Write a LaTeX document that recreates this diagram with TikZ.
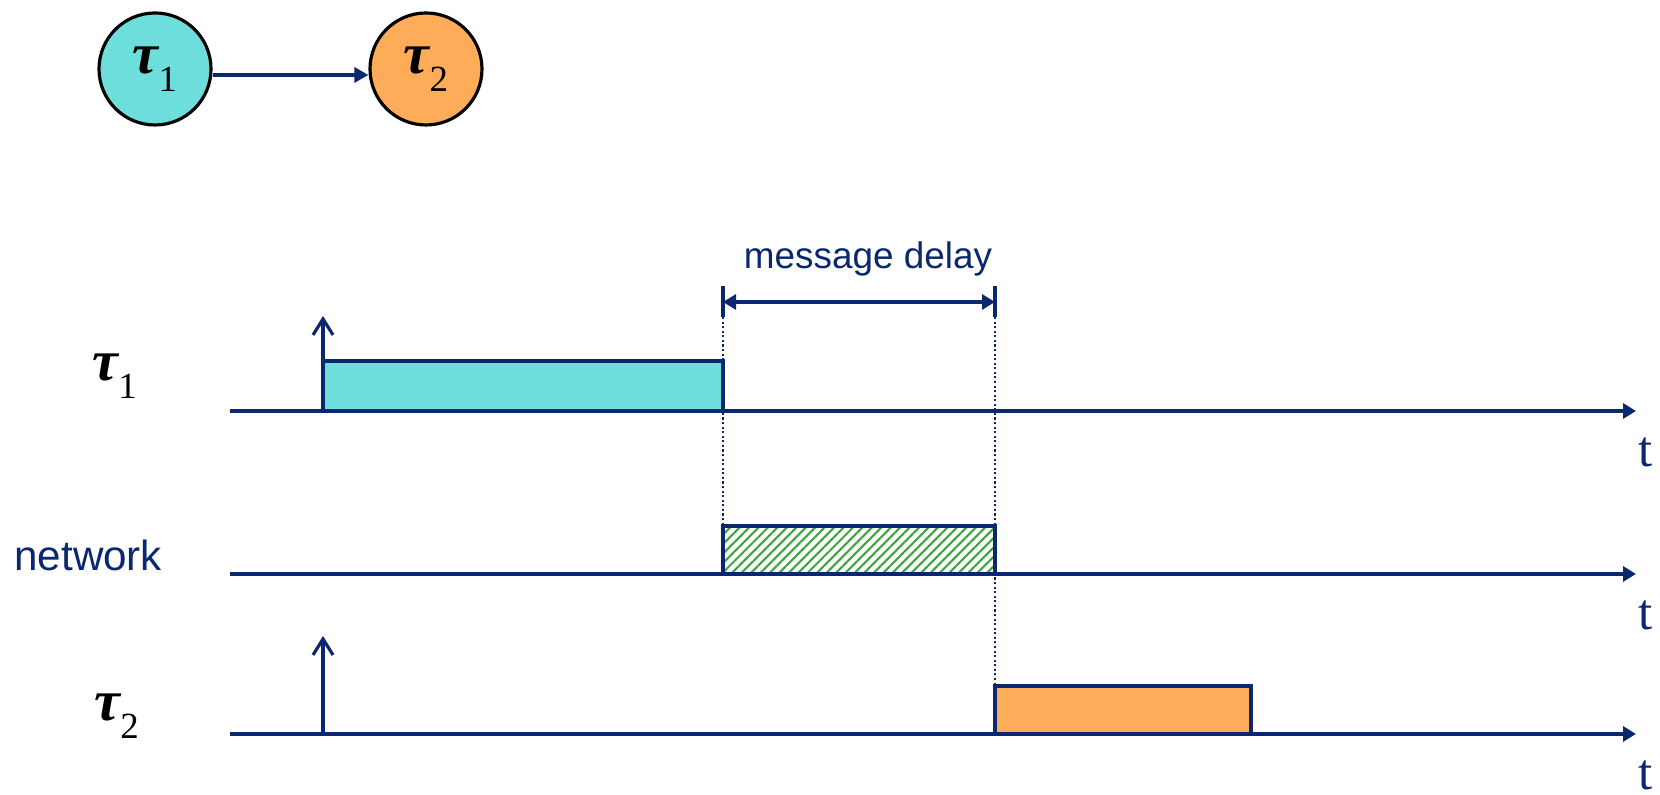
\documentclass[tikz,border=0pt]{standalone}
\usepackage{amsmath}
\usepackage{xcolor}
\usepackage{fontspec}
\setmainfont{Liberation Sans}
\newfontfamily\timesfont{Liberation Serif}
\usepackage{tikz}
\usetikzlibrary{arrows.meta,patterns.meta}

\definecolor{navy}{RGB}{10,40,112}
\definecolor{cyanfill}{RGB}{110,222,220}
\definecolor{orangefill}{RGB}{255,172,90}
\definecolor{hatchgreen}{RGB}{60,165,60}

% task name: tau with a low subscript
\newcommand{\tsk}[1]{{\timesfont\bfseries\itshape\fontsize{16.5}{19}\selectfont τ}\raisebox{-5pt}{\timesfont\fontsize{10.5}{12}\selectfont #1}}

\begin{document}
\begin{tikzpicture}[x=1cm,y=1cm,
        task/.style={circle, draw=black, line width=0.9pt, minimum size=1.12cm, inner sep=0pt},
        axis/.style={navy, line width=0.9pt, -{Triangle[length=1.3mm,width=1.5mm]}},
        release/.style={navy, line width=0.9pt, -{Straight Barb[length=1.6mm,width=2mm]}},
        job/.style={draw=navy, line width=0.9pt},
        tasklbl/.style={inner sep=0pt, anchor=base west},
        tlbl/.style={text=navy, inner sep=0pt, font=\timesfont\fontsize{14.5}{17}\selectfont},
        guide/.style={navy, line width=0.8pt, dash pattern=on 0.6pt off 0.7pt}]
            \useasboundingbox (0,0) rectangle (16.6,7.95);

            % precedence graph
            \node[task, fill=cyanfill] (A) at (1.55,7.26) {\tsk{1}};
            \node[task, fill=orangefill] (B) at (4.26,7.26) {\tsk{2}};
            \draw[navy, line width=0.9pt, -{Triangle[length=1.4mm,width=1.5mm]}] ([yshift=-0.06cm]A.east) -- ([yshift=-0.06cm]B.west);

            % time axes
            \foreach \y/\nm in {3.84/one, 2.21/net, 0.61/two}{
                \coordinate (\nm s) at (2.30,\y);
                \coordinate (\nm e) at (16.36,\y);
                \draw[axis] (\nm s) -- (\nm e);
                \node[tlbl] (t\nm) at (16.46,\y-0.41) {t};
            }

            \node[tasklbl] (L1) at (0.92,4.14) {\tsk{1}};
            \node[text=navy, font=\fontsize{12}{14}\selectfont, anchor=west] (L3) at (0.02,2.40) {network};
            \node[tasklbl] (L2) at (0.94,0.74) {\tsk{2}};

            % jobs
            \draw[job, fill=cyanfill] (3.23,3.84) rectangle (7.23,4.34);
            \draw[job, pattern={Lines[angle=45,distance=1.9pt,line width=0.6pt]}, pattern color=hatchgreen] (7.23,2.21) rectangle (9.95,2.69);
            \draw[job, fill=orangefill] (9.95,0.61) rectangle (12.51,1.09);

            % releases
            \coordinate (r1) at (3.23,3.84);
            \coordinate (r2) at (3.23,0.61);
            \draw[release] (r1) -- ++(0,0.95);
            \draw[release] (r2) -- ++(0,0.98);

            % message delay
            \coordinate (d1) at (7.23,4.93);
            \coordinate (d2) at (9.95,4.93);
            \foreach \x in {7.23,9.95}{
                \draw[navy, line width=0.9pt] (\x,4.78) -- (\x,5.09);
            }
            \draw[navy, line width=0.9pt, {Triangle[length=1.3mm,width=1.5mm]}-{Triangle[length=1.3mm,width=1.5mm]}] (d1) -- (d2);
            \node[navy, font=\fontsize{10.5}{12}\selectfont] (delay) at (8.68,5.36) {message delay};
            \draw[guide] (7.23,4.78) -- (7.23,2.69);
            \draw[guide] (9.95,4.78) -- (9.95,1.09);
\end{tikzpicture}
\end{document}
